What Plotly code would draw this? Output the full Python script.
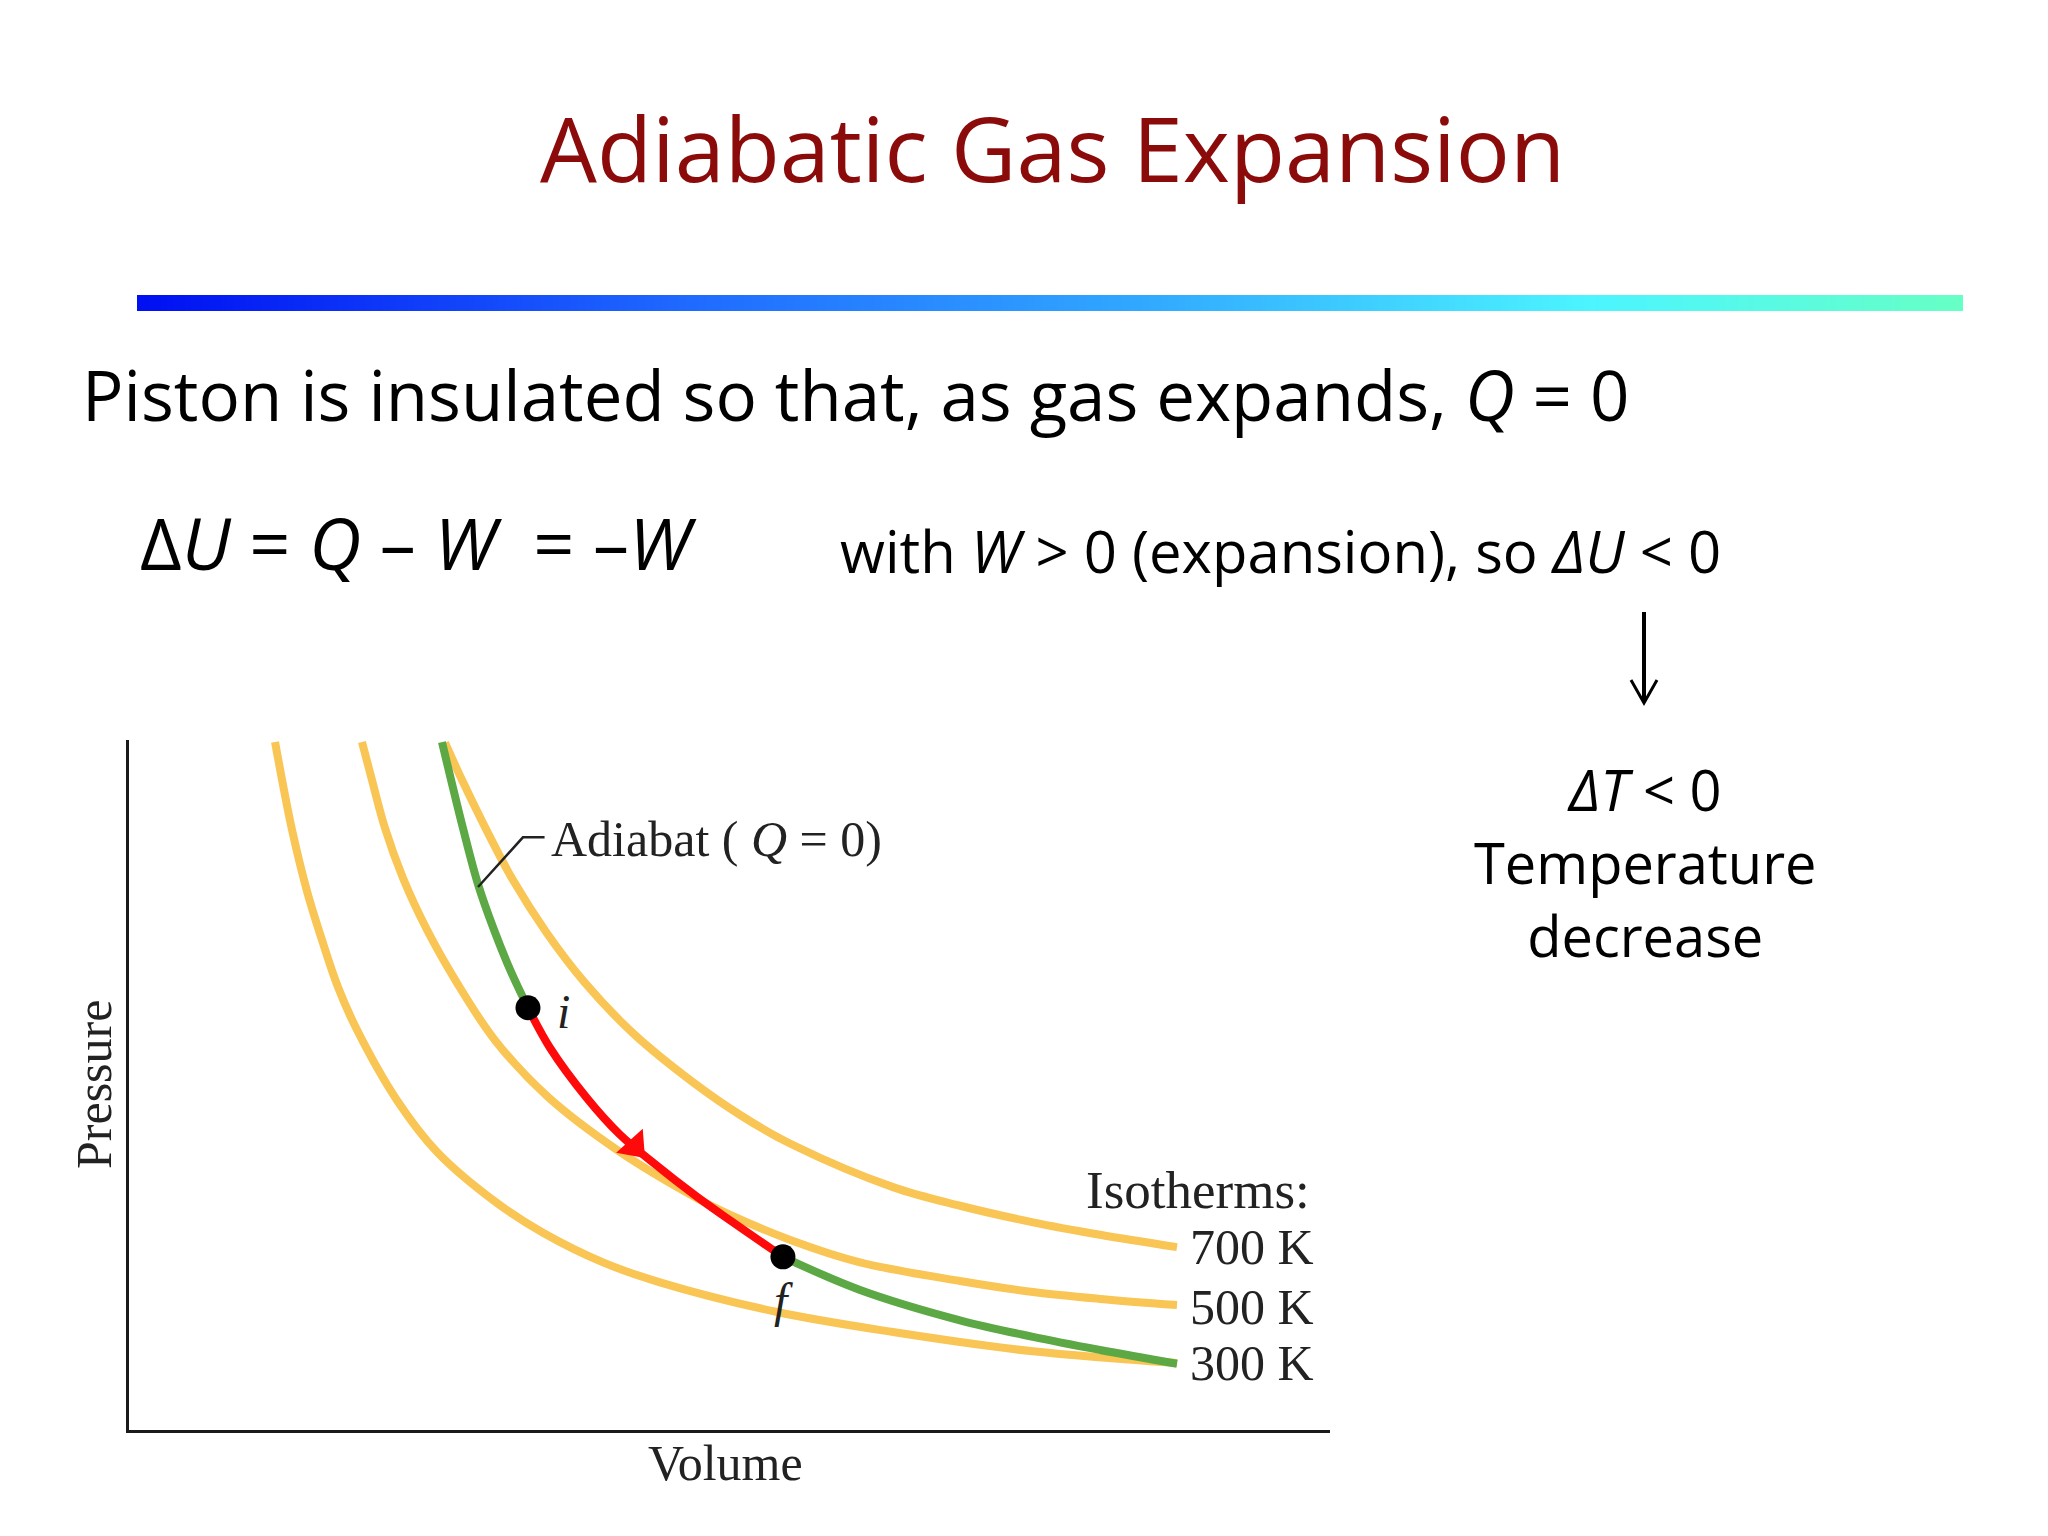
import plotly.graph_objects as go

# ---------------- data (V and P in arbitrary units 0-10) ----------------
V_300 = [1.216, 1.357, 1.482, 1.607, 1.740, 1.898, 2.231, 2.565, 3.064, 3.447, 3.947, 4.421, 5.396, 6.361, 7.527, 8.726]
P_300 = [9.97, 8.70, 7.81, 7.10, 6.42, 5.80, 4.78, 4.03, 3.29, 2.86, 2.43, 2.14, 1.71, 1.42, 1.14, 0.97]

V_500 = [1.940, 2.023, 2.132, 2.281, 2.481, 2.731, 3.047, 3.480, 4.063, 4.729, 4.979, 5.529, 6.087, 6.919, 7.527, 8.085, 8.726]
P_500 = [9.97, 9.42, 8.72, 8.00, 7.25, 6.48, 5.65, 4.84, 4.06, 3.36, 3.14, 2.74, 2.43, 2.16, 2.00, 1.90, 1.81]

V_700 = [2.631, 2.781, 2.981, 3.197, 3.480, 3.797, 4.197, 4.696, 5.112, 5.529, 6.361, 6.919, 7.527, 8.085, 8.726]
P_700 = [9.96, 9.39, 8.68, 7.97, 7.20, 6.48, 5.75, 5.04, 4.54, 4.13, 3.52, 3.25, 3.01, 2.83, 2.65]

V_adiab_top = [2.606, 2.781, 2.906, 3.039, 3.181, 3.322]
P_adiab_top = [9.97, 8.72, 7.91, 7.25, 6.64, 6.12]
V_path = [3.322, 3.505, 3.813, 4.088, 4.338, 4.729, 5.004, 5.445]
P_path = [6.12, 5.54, 4.81, 4.28, 3.91, 3.38, 3.04, 2.51]
V_adiab_bot = [5.445, 6.087, 6.919, 7.527, 8.085, 8.726]
P_adiab_bot = [2.51, 2.03, 1.59, 1.35, 1.16, 0.96]

state_names = ["i", "f"]
V_states = [3.322, 5.445]
P_states = [6.12, 2.51]

arrow_V = [4.21]
arrow_P = [4.11]

iso_labels = ["700 K", "500 K", "300 K"]
iso_label_P = [2.65, 1.78, 0.97]

W, H = 2048, 1536
ORANGE = "#F9C554"
GREEN = "#5BA844"
RED = "#FF0A0A"
SANS = "Open Sans"
SERIF = "Liberation Serif"


def px(x):
    return x / W


def py(y):
    return 1 - y / H


fig = go.Figure()

# gradient rule under the title
grad = list(range(101))
fig.add_trace(go.Heatmap(
    z=[grad], xaxis="x2", yaxis="y2", showscale=False, zsmooth="best", hoverinfo="skip",
    colorscale=[[0, "#0010F2"], [0.3, "#1F6AFF"], [0.55, "#31A8FF"], [0.8, "#4CF5FF"], [1, "#66FFC6"]],
))

line_w = 8
for V, P in [(V_300, P_300), (V_500, P_500), (V_700, P_700)]:
    fig.add_trace(go.Scatter(x=V, y=P, mode="lines", line=dict(color=ORANGE, width=line_w, shape="spline", smoothing=1),
                             hoverinfo="skip", showlegend=False))
fig.add_trace(go.Scatter(x=V_adiab_top, y=P_adiab_top, mode="lines",
                         line=dict(color=GREEN, width=line_w, shape="spline", smoothing=1), showlegend=False))
fig.add_trace(go.Scatter(x=V_adiab_bot, y=P_adiab_bot, mode="lines",
                         line=dict(color=GREEN, width=line_w, shape="spline", smoothing=1), showlegend=False))
fig.add_trace(go.Scatter(x=V_path, y=P_path, mode="lines",
                         line=dict(color=RED, width=line_w, shape="spline", smoothing=1), showlegend=False))
fig.add_trace(go.Scatter(x=arrow_V, y=arrow_P, mode="markers",
                         marker=dict(symbol="triangle-right", size=31, color=RED, angle=48,
                                     line=dict(width=0)), showlegend=False))
fig.add_trace(go.Scatter(x=V_states, y=P_states, mode="markers",
                         marker=dict(color="black", size=25), showlegend=False))

annotations = []
# slide text
annotations.append(dict(text="Adiabatic Gas Expansion", x=px(1052), y=py(147), xref="paper", yref="paper",
                        xanchor="center", yanchor="middle", showarrow=False,
                        font=dict(family=SANS, size=90, color="#8B0A0A")))
annotations.append(dict(text="Piston is insulated so that, as gas expands, <i>Q</i> = 0", x=px(80), y=py(394),
                        xref="paper", yref="paper", xanchor="left", yanchor="middle", showarrow=False,
                        font=dict(family=SANS, size=69, color="black")))
annotations.append(dict(text="Δ<i>U</i> = <i>Q</i> – <i>W</i>  = –<i>W</i>", x=px(138), y=py(542),
                        xref="paper", yref="paper", xanchor="left", yanchor="middle", showarrow=False,
                        font=dict(family=SANS, size=72, color="black")))
annotations.append(dict(text="with <i>W</i> > 0 (expansion), so <i>ΔU</i> < 0", x=px(838), y=py(550),
                        xref="paper", yref="paper", xanchor="left", yanchor="middle", showarrow=False,
                        font=dict(family=SANS, size=58, color="black")))
annotations.append(dict(text="<i>ΔT</i> < 0<br>Temperature<br>decrease", x=px(1645), y=py(862),
                        xref="paper", yref="paper", xanchor="center", yanchor="middle", align="center",
                        showarrow=False, font=dict(family=SANS, size=56, color="black")))

# chart labels
annotations.append(dict(text="Pressure", x=px(94), y=py(1085), xref="paper", yref="paper", textangle=-90,
                        xanchor="center", yanchor="middle", showarrow=False,
                        font=dict(family=SERIF, size=50, color="#222")))
annotations.append(dict(text="Volume", x=px(725), y=py(1463), xref="paper", yref="paper",
                        xanchor="center", yanchor="middle", showarrow=False,
                        font=dict(family=SERIF, size=50, color="#222")))
annotations.append(dict(text="Adiabat ( <i>Q</i> = 0)", x=3.50, y=8.57, xref="x", yref="y",
                        xanchor="left", yanchor="middle", showarrow=False,
                        font=dict(family=SERIF, size=50, color="#222")))
annotations.append(dict(text="Isotherms:", x=9.85, y=3.48, xref="x", yref="y",
                        xanchor="right", yanchor="middle", showarrow=False,
                        font=dict(family=SERIF, size=53, color="#222")))
for lab, pp in zip(iso_labels, iso_label_P):
    annotations.append(dict(text=lab, x=8.82, y=pp, xref="x", yref="y",
                            xanchor="left", yanchor="middle", showarrow=False,
                            font=dict(family=SERIF, size=50, color="#222")))
annotations.append(dict(text="<i>i</i>", x=3.62, y=6.07, xref="x", yref="y",
                        xanchor="center", yanchor="middle", showarrow=False,
                        font=dict(family=SERIF, size=48, color="#222")))
annotations.append(dict(text="<i>f</i>", x=5.45, y=1.88, xref="x", yref="y",
                        xanchor="center", yanchor="middle", showarrow=False,
                        font=dict(family=SERIF, size=48, color="#222")))

shapes = [
    # leader line for adiabat label
    dict(type="path", path="M 2.906,7.87 L 3.28,8.59 L 3.46,8.59", xref="x", yref="y",
         line=dict(color="#222", width=2.5)),
    # down arrow  (paper coordinates)
    dict(type="line", xref="paper", yref="paper", x0=px(1644), x1=px(1644), y0=py(612), y1=py(702),
         line=dict(color="black", width=4)),
    dict(type="path", xref="paper", yref="paper",
         path=f"M {px(1631)},{py(680)} L {px(1644)},{py(703)} L {px(1657)},{py(680)}",
         line=dict(color="black", width=3)),
]

fig.update_layout(
    width=W, height=H, margin=dict(l=0, r=0, t=0, b=0),
    paper_bgcolor="white", plot_bgcolor="white", showlegend=False,
    xaxis=dict(domain=[px(129), px(1330)], range=[0, 10], showline=True, linecolor="#1a1a1a", linewidth=3,
               showticklabels=False, ticks="", showgrid=False, zeroline=False, fixedrange=True),
    yaxis=dict(domain=[py(1430), py(740)], range=[0, 10], showline=True, linecolor="#1a1a1a", linewidth=3,
               showticklabels=False, ticks="", showgrid=False, zeroline=False, fixedrange=True),
    xaxis2=dict(domain=[px(137), px(1963)], anchor="y2", visible=False, fixedrange=True),
    yaxis2=dict(domain=[py(311), py(295)], anchor="x2", visible=False, fixedrange=True),
    annotations=annotations, shapes=shapes,
)

fig.write_html("out.html", config={"displayModeBar": False},
               post_script="document.body.style.margin='0';document.body.style.overflow='hidden';")
